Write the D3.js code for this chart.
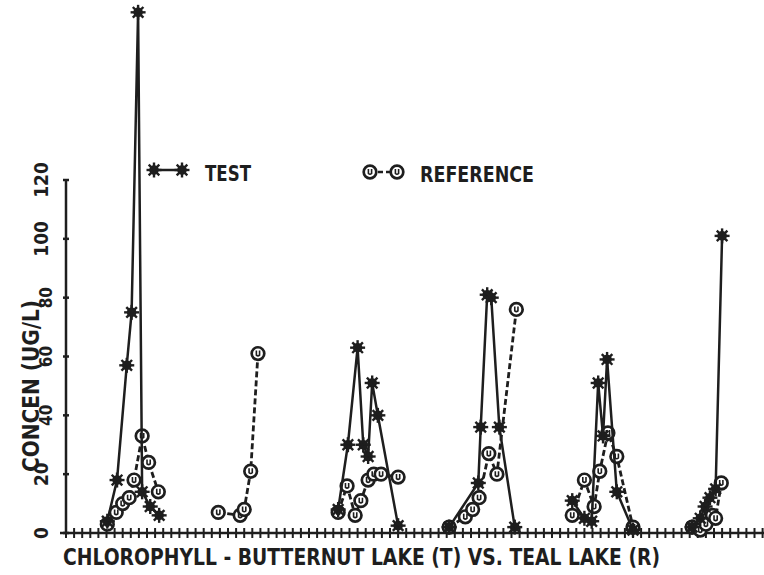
<!DOCTYPE html>
<html>
<head>
<meta charset="utf-8">
<script src="https://cdn.jsdelivr.net/npm/d3@7"></script>
<style>
  html, body { margin: 0; padding: 0; background: #fff; }
  svg { display: block; }
  text { font-family: "Liberation Sans Narrow", "DejaVu Sans Condensed", "DejaVu Sans", sans-serif; fill: #1e1e1e; font-weight: bold; }
</style>
</head>
<body>
<svg id="chart" width="764" height="575"></svg>
<script>
// ---------------- data ----------------
const yTicks = [0, 20, 40, 60, 80, 100, 120];
const xTickCount = 86;
const legendLabels = ["TEST", "REFERENCE"];
const xTitle = "CHLOROPHYLL - BUTTERNUT LAKE (T) VS. TEAL LAKE (R)";
const yTitle = "CONCEN (UG/L)";

// Test lake (asterisks, solid)
const testSeason = [1,1,1,1,1,1,1,1, 3,3,3,3,3,3,3,3, 4,4,4,4,4,4,4, 5,5,5,5,5,5,5,5, 6,6,6,6,6,6];
const testWeek   = [5.1,6.3,7.5,8.1,8.9,9.4,10.4,11.5, 33.6,34.8,36.0,36.7,37.3,37.8,38.5,41.0,
                    47.3,50.9,51.2,52.0,52.5,53.5,55.4, 62.5,64.0,64.9,65.7,66.3,66.8,68.0,70.0,
                    77.3,78.3,78.9,79.5,80.2,81.0];
const testConc   = [4,18,57,75,177,14,9,6, 8,30,63,30,26,51,40,2.5,
                    2,17,36,81,80,36,2, 11,5,4,51,33,59,14,1,
                    2,5,9,12,15,101];

// Reference lake (circles, dashed)
const refSeason = [1,1,1,1,1,1,1,1, 2,2,2,2,2, 3,3,3,3,3,3,3,3, 4,4,4,4,4,4,4, 5,5,5,5,5,5,5, 6,6,6,6,6,6];
const refWeek   = [5.1,6.2,7.0,7.8,8.4,9.4,10.2,11.4, 18.8,21.5,22.0,22.8,23.7,
                   33.6,34.7,35.7,36.4,37.3,38.0,38.9,41.0,
                   47.3,49.3,50.2,51.0,52.2,53.2,55.6,
                   62.5,64.0,65.2,65.9,66.9,68.0,70.0,
                   77.3,78.3,79.0,79.8,80.2,80.9];
const refConc   = [3,7,10,12,18,33,24,14, 7,6,8,21,61,
                   7,16,6,11,18,20,20,19,
                   2,5.5,8,12,27,20,76,
                   6,18,9,21,34,26,2,
                   2,1,3,6,5,17];

// ---------------- drawing ----------------
const svg = d3.select("#chart");
const ink = "#1e1e1e";

const x = d3.scaleLinear().domain([0, xTickCount]).range([66, 66 + xTickCount * 8.1]);
const y = d3.scaleLinear().domain([0, 120]).range([533, 180]);

// y axis
svg.append("line").attr("x1", x(0)).attr("x2", x(0)).attr("y1", y(0)).attr("y2", y(120))
  .attr("stroke", ink).attr("stroke-width", 2.5);
svg.selectAll(".ytick").data(yTicks).enter().append("line")
  .attr("x1", x(0) - 3).attr("x2", x(0) + 3)
  .attr("y1", d => y(d)).attr("y2", d => y(d))
  .attr("stroke", ink).attr("stroke-width", 2.5);
svg.selectAll(".ylab").data(yTicks).enter().append("text")
  .attr("transform", d => `translate(${(d >= 40 && d <= 80) ? 46 : 41},${y(d)}) rotate(-90)`)
  .attr("text-anchor", "middle").attr("dy", "0.36em")
  .attr("font-size", d => (d >= 40 && d <= 80) ? 17 : 19)
  .text(d => d);

// y title
svg.append("text")
  .attr("transform", `translate(31,386) rotate(-90)`)
  .attr("text-anchor", "middle").attr("dy", "0.36em")
  .attr("font-size", 23)
  .attr("textLength", 172).attr("lengthAdjust", "spacingAndGlyphs")
  .text(yTitle);

// x axis
svg.append("line").attr("x1", 60).attr("x2", 764).attr("y1", y(0)).attr("y2", y(0))
  .attr("stroke", ink).attr("stroke-width", 2.5);
svg.selectAll(".xtick").data(d3.range(0, xTickCount + 1)).enter().append("line")
  .attr("x1", d => x(d)).attr("x2", d => x(d))
  .attr("y1", y(0) - 5).attr("y2", y(0) + 5)
  .attr("stroke", ink).attr("stroke-width", 2);

// x title
svg.append("text").attr("x", 63).attr("y", 565)
  .attr("font-size", 23)
  .attr("textLength", 597).attr("lengthAdjust", "spacingAndGlyphs")
  .text(xTitle);

// markers
function drawStar(g, cx, cy) {
  const r = 7.5;
  g.append("circle").attr("cx", cx).attr("cy", cy).attr("r", 4.8).attr("fill", ink);
  d3.range(8).forEach(i => {
    const a = i * Math.PI / 4;
    g.append("line")
      .attr("x1", cx).attr("y1", cy)
      .attr("x2", cx + r * Math.cos(a)).attr("y2", cy + r * Math.sin(a))
      .attr("stroke", ink).attr("stroke-width", 2.4);
  });
}
function drawCirc(g, cx, cy) {
  g.append("circle").attr("cx", cx).attr("cy", cy).attr("r", 6.3)
    .attr("fill", "#fff").attr("stroke", ink).attr("stroke-width", 2.7);
  g.append("path")
    .attr("d", `M${cx - 1.6},${cy - 3} L${cx - 1.6},${cy + 1.5} Q${cx},${cy + 3} ${cx + 1.6},${cy + 1.5} L${cx + 1.6},${cy - 3}`)
    .attr("fill", "none").attr("stroke", ink).attr("stroke-width", 1.6);
}

function seriesBy(season, week, conc) {
  return d3.groups(season.map((s, i) => ({ s, w: week[i], c: conc[i] })), d => d.s).map(d => d[1]);
}
const testGroups = seriesBy(testSeason, testWeek, testConc);
const refGroups = seriesBy(refSeason, refWeek, refConc);
const line = d3.line().x(d => x(d.w)).y(d => y(d.c));

const gRef = svg.append("g");
refGroups.forEach(grp => {
  gRef.append("path").attr("d", line(grp)).attr("fill", "none")
    .attr("stroke", ink).attr("stroke-width", 2.8).attr("stroke-dasharray", "6,3");
});
const gTest = svg.append("g");
testGroups.forEach(grp => {
  gTest.append("path").attr("d", line(grp)).attr("fill", "none")
    .attr("stroke", ink).attr("stroke-width", 2.5);
});
refGroups.flat().forEach(d => drawCirc(gRef, x(d.w), y(d.c)));
testGroups.flat().forEach(d => drawStar(gTest, x(d.w), y(d.c)));

// legend
const gl = svg.append("g");
gl.append("line").attr("x1", 154).attr("x2", 182).attr("y1", 170).attr("y2", 170)
  .attr("stroke", ink).attr("stroke-width", 2.5);
drawStar(gl, 154, 170); drawStar(gl, 182, 170);
gl.append("text").attr("x", 205).attr("y", 181).attr("font-size", 21)
  .attr("textLength", 46).attr("lengthAdjust", "spacingAndGlyphs").text(legendLabels[0]);
gl.append("line").attr("x1", 370).attr("x2", 397).attr("y1", 172).attr("y2", 172)
  .attr("stroke", ink).attr("stroke-width", 2.5).attr("stroke-dasharray", "5,3");
drawCirc(gl, 370, 172); drawCirc(gl, 397, 172);
gl.append("text").attr("x", 420).attr("y", 182).attr("font-size", 21)
  .attr("textLength", 114).attr("lengthAdjust", "spacingAndGlyphs").text(legendLabels[1]);
</script>
</body>
</html>
